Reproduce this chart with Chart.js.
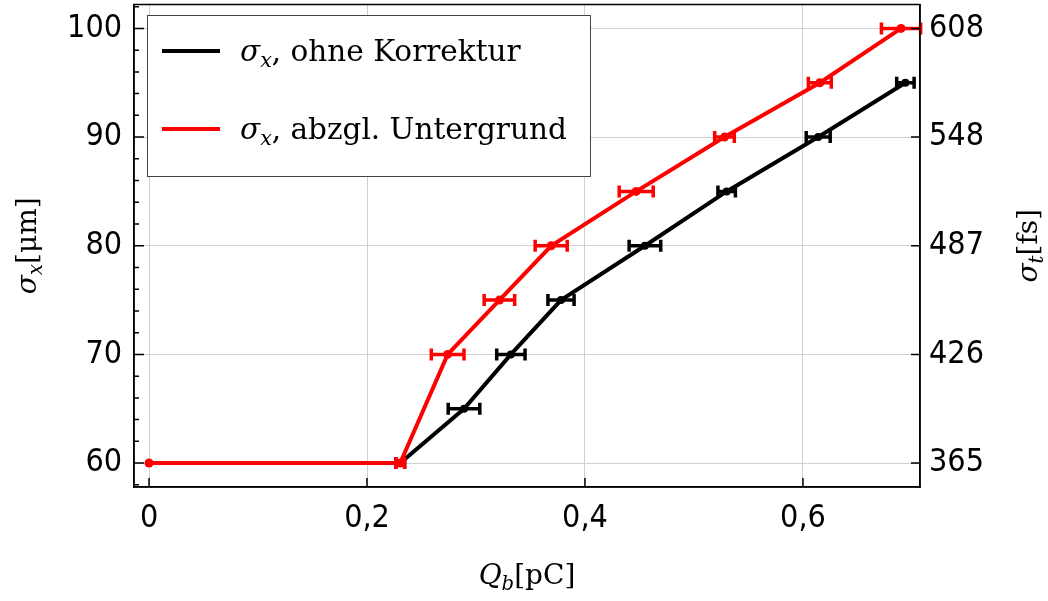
<!DOCTYPE html>
<html>
<head>
<meta charset="utf-8">
<script src="https://cdn.jsdelivr.net/npm/chart.js@4"></script>
<style>
  html, body { margin: 0; padding: 0; background: #fff; }
  canvas { display: block; }
</style>
</head>
<body>
<canvas id="sigmaChart" width="1048" height="601"></canvas>
<script>
// Strahlbreite sigma_x gegen Ladung Q_b
const qOhne     = [0, 0.2305, 0.289, 0.332, 0.378, 0.455, 0.530, 0.614, 0.694];
const sxOhne    = [60, 60, 65, 70, 75, 80, 85, 90, 95];
const qErrOhne  = [0, 0.004, 0.0145, 0.013, 0.012, 0.0145, 0.008, 0.011, 0.008];

const qUnter    = [0, 0.2305, 0.274, 0.3215, 0.369, 0.447, 0.528, 0.6155, 0.690];
const sxUnter   = [60, 60, 70, 75, 80, 85, 90, 95, 100];
const qErrUnter = [0, 0.004, 0.015, 0.014, 0.0147, 0.0156, 0.009, 0.0105, 0.018];

// Achsen
const xTicks = [0, 0.2, 0.4, 0.6];
const yTicks = [60, 70, 80, 90, 100];
const tTickLabels = ['365', '426', '487', '548', '608'];

const serif = '"DejaVu Serif", "Liberation Serif", serif';
const tickFont = { family: '"DejaVu Sans Condensed", "DejaVu Sans", sans-serif', size: 32 };

const errs = [qErrOhne, qErrUnter];

function toPoints(xs, ys) {
    return xs.map((x, i) => ({ x: x, y: ys[i] }));
}

// Text mit Index (z.B. sigma_x) zeichnen
function setFont(ctx, s, size) {
    const fs = s.sub ? size * 0.7 : size;
    ctx.font = (s.italic ? 'italic ' : '') + '300 ' + fs + 'px ' + serif;
}
function richWidth(ctx, segs, size) {
    let w = 0;
    segs.forEach(s => {
        setFont(ctx, s, size);
        w += ctx.measureText(s.t).width;
    });
    return w;
}
function drawRich(ctx, segs, x, y, size, align) {
    let cx = align === 'center' ? x - richWidth(ctx, segs, size) / 2 : x;
    ctx.textAlign = 'left';
    ctx.textBaseline = 'alphabetic';
    ctx.fillStyle = '#000';
    segs.forEach(s => {
        setFont(ctx, s, size);
        ctx.fillText(s.t, cx, s.sub ? y + size * 0.22 : y);
        cx += ctx.measureText(s.t).width;
    });
}

const errorBars = {
    id: 'errorBars',
    afterDatasetDraw(chart, args) {
        const ctx = chart.ctx;
        const xs = chart.scales.x, ys = chart.scales.y;
        const ds = chart.data.datasets[args.index];
        const err = errs[args.index];
        ctx.save();
        ctx.strokeStyle = ds.borderColor;
        ctx.lineWidth = 3.5;
        ds.data.forEach((p, i) => {
            if (!err[i]) return;
            const x0 = xs.getPixelForValue(p.x - err[i]);
            const x1 = xs.getPixelForValue(p.x + err[i]);
            const py = ys.getPixelForValue(p.y);
            ctx.beginPath();
            ctx.moveTo(x0, py); ctx.lineTo(x1, py);
            ctx.moveTo(x0, py - 6); ctx.lineTo(x0, py + 6);
            ctx.moveTo(x1, py - 6); ctx.lineTo(x1, py + 6);
            ctx.stroke();
        });
        ctx.restore();
    }
};

const frameAndLabels = {
    id: 'frameAndLabels',
    afterDraw(chart) {
        const ctx = chart.ctx;
        const a = chart.chartArea;
        const xs = chart.scales.x, ys = chart.scales.y;
        ctx.save();
        ctx.strokeStyle = '#000';
        ctx.lineWidth = 1.5;
        ctx.strokeRect(a.left, a.top, a.right - a.left, a.bottom - a.top);

        // Ticks nach innen
        ctx.beginPath();
        xTicks.forEach(v => {
            const px = xs.getPixelForValue(v);
            ctx.moveTo(px, a.bottom); ctx.lineTo(px, a.bottom - 9);
        });
        for (let v = 58; v <= 102; v += 2) {
            const py = ys.getPixelForValue(v);
            const len = v % 10 === 0 ? 10 : 5;
            ctx.moveTo(a.left, py); ctx.lineTo(a.left + len, py);
        }
        yTicks.forEach(v => {
            const py = ys.getPixelForValue(v);
            ctx.moveTo(a.right, py); ctx.lineTo(a.right - 9, py);
        });
        ctx.stroke();

        // Achsenbeschriftungen
        drawRich(ctx, [{ t: 'Q', italic: true }, { t: 'b', italic: true, sub: true }, { t: '[pC]' }],
            (a.left + a.right) / 2, 584, 28, 'center');

        ctx.save();
        ctx.translate(36, (a.top + a.bottom) / 2);
        ctx.rotate(-Math.PI / 2);
        drawRich(ctx, [{ t: 'σ', italic: true }, { t: 'x', italic: true, sub: true }, { t: '[μm]' }], 0, 0, 28, 'center');
        ctx.restore();

        ctx.save();
        ctx.translate(1037, (a.top + a.bottom) / 2);
        ctx.rotate(-Math.PI / 2);
        drawRich(ctx, [{ t: 'σ', italic: true }, { t: 't', italic: true, sub: true }, { t: '[fs]' }], 0, 0, 28, 'center');
        ctx.restore();

        // Legende
        ctx.fillStyle = '#fff';
        ctx.fillRect(147, 15, 443, 161);
        ctx.strokeStyle = '#444';
        ctx.lineWidth = 1;
        ctx.strokeRect(147.5, 15.5, 443, 161);
        chart.data.datasets.forEach((ds, i) => {
            const ly = 51 + i * 78;
            ctx.strokeStyle = ds.borderColor;
            ctx.lineWidth = 4;
            ctx.beginPath();
            ctx.moveTo(162, ly); ctx.lineTo(220, ly);
            ctx.stroke();
            drawRich(ctx, [{ t: 'σ', italic: true }, { t: 'x', italic: true, sub: true }, { t: ds.label }],
                240, ly + 10, 29.5, 'left');
        });
        ctx.restore();
    }
};

new Chart(document.getElementById('sigmaChart'), {
    type: 'scatter',
    data: {
        datasets: [{
            label: ', ohne Korrektur',
            data: toPoints(qOhne, sxOhne),
            showLine: true,
            order: 1,
            borderColor: '#000000',
            backgroundColor: '#000000',
            borderWidth: 4,
            pointRadius: 4,
            pointBorderWidth: 0
        }, {
            label: ', abzgl. Untergrund',
            data: toPoints(qUnter, sxUnter),
            showLine: true,
            order: 0,
            borderColor: '#ff0000',
            backgroundColor: '#ff0000',
            borderWidth: 4,
            pointRadius: 4.5,
            pointBorderWidth: 0
        }]
    },
    options: {
        responsive: false,
        animation: false,
        devicePixelRatio: 1,
        layout: { padding: { top: 1, left: 0, right: 0, bottom: 0 } },
        plugins: {
            legend: { display: false },
            tooltip: { enabled: false }
        },
        scales: {
            x: {
                type: 'linear',
                min: -0.0138,
                max: 0.7074,
                afterBuildTicks: s => { s.ticks = xTicks.map(v => ({ value: v })); },
                afterFit: s => { s.height = 114; s.paddingLeft = 0; s.paddingRight = 0; },
                ticks: {
                    callback: v => String(v).replace('.', ','),
                    font: tickFont,
                    color: '#000',
                    padding: 12,
                    maxRotation: 0,
                    autoSkip: false
                },
                grid: { color: '#d0d0d0', lineWidth: 1, drawTicks: false },
                border: { color: '#000', width: 1.5 }
            },
            y: {
                position: 'left',
                min: 57.8,
                max: 102.2,
                afterBuildTicks: s => { s.ticks = yTicks.map(v => ({ value: v })); },
                afterFit: s => { s.width = 134; s.paddingTop = 0; s.paddingBottom = 0; },
                ticks: { font: tickFont, color: '#000', padding: 12, autoSkip: false },
                grid: { color: '#d0d0d0', lineWidth: 1, drawTicks: false },
                border: { color: '#000', width: 1.5 }
            },
            y2: {
                position: 'right',
                min: 57.8,
                max: 102.2,
                afterBuildTicks: s => { s.ticks = yTicks.map(v => ({ value: v })); },
                afterFit: s => { s.width = 128; s.paddingTop = 0; s.paddingBottom = 0; },
                ticks: {
                    callback: (v, i) => tTickLabels[i],
                    font: tickFont,
                    color: '#000',
                    padding: 9,
                    autoSkip: false
                },
                grid: { drawOnChartArea: false, drawTicks: false },
                border: { color: '#000', width: 1.5 }
            }
        }
    },
    plugins: [errorBars, frameAndLabels]
});
</script>
</body>
</html>
